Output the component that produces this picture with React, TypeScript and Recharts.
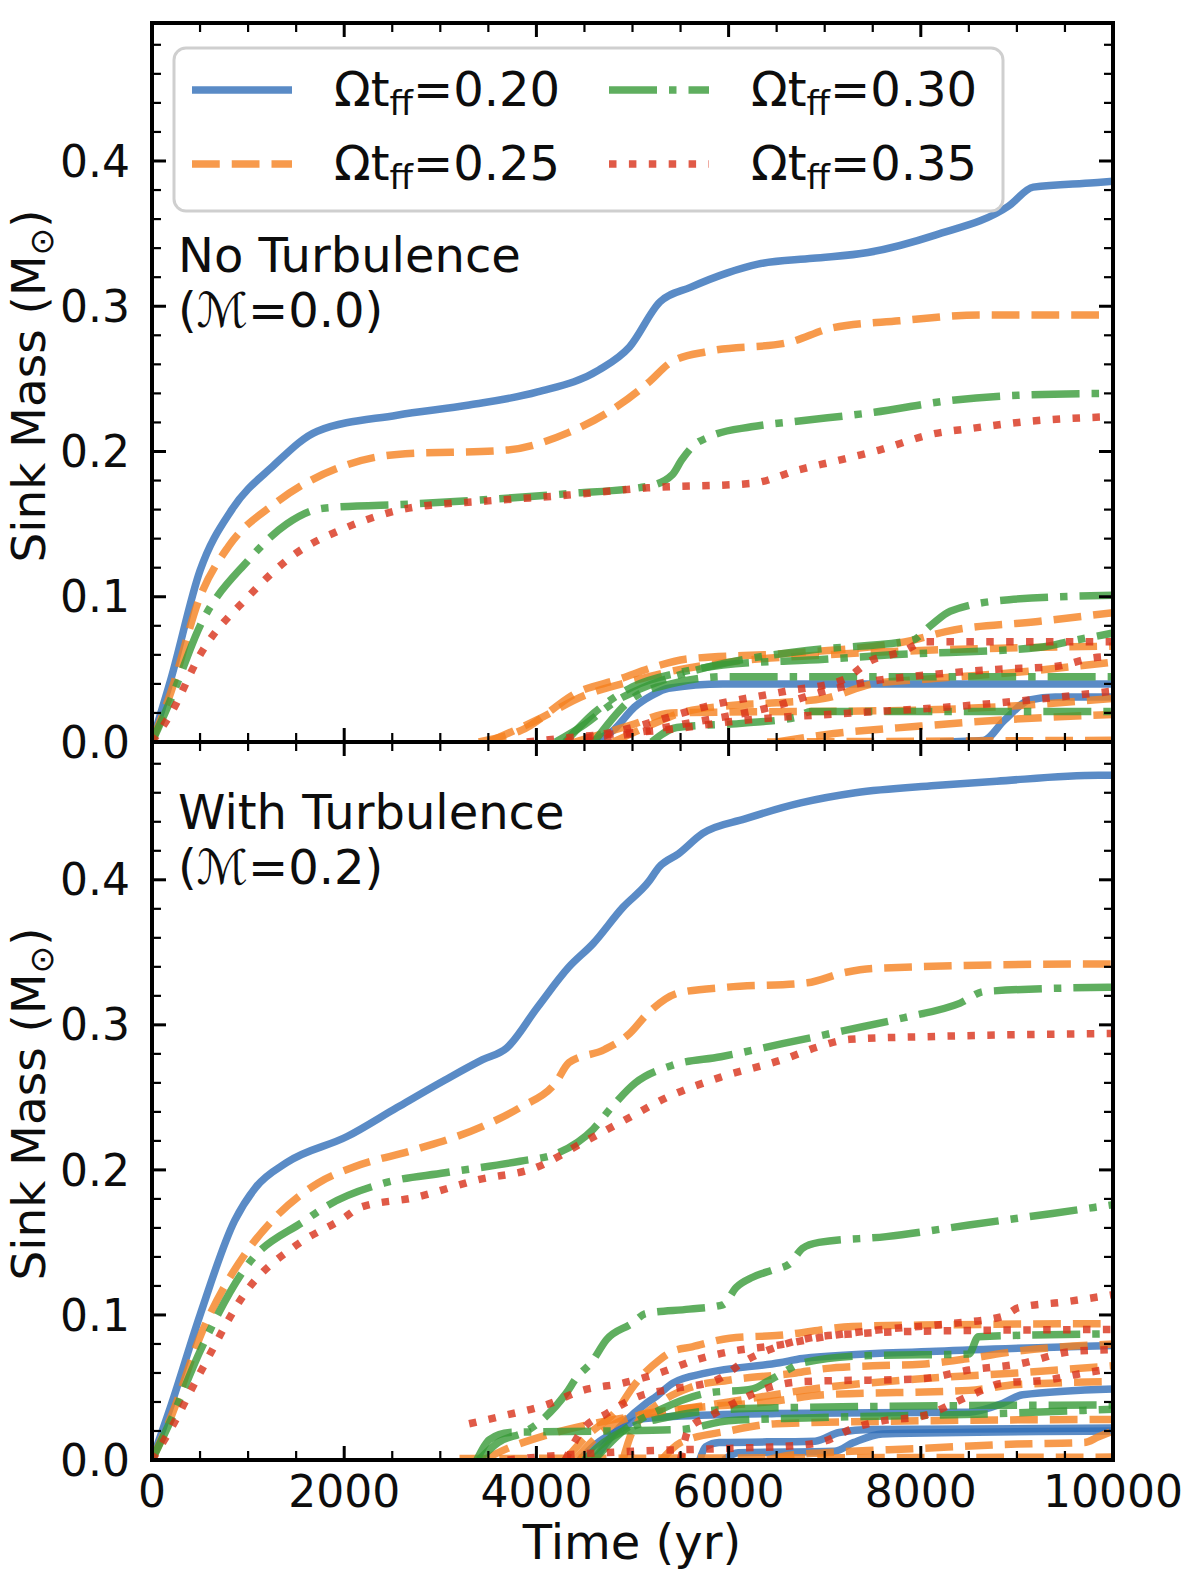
import { LineChart, Line, XAxis, YAxis } from "recharts";

type Pt = [number, number];
type OmegaKey = "0.20" | "0.25" | "0.30" | "0.35";

// ---------- ticks ----------
const xMajorTicks = [0, 2000, 4000, 6000, 8000, 10000];
const xMinorTicks = [500, 1000, 1500, 2500, 3000, 3500, 4500, 5000, 5500, 6500, 7000, 7500, 8500, 9000, 9500];
const yMajorTicks = [0, 0.1, 0.2, 0.3, 0.4];
const yMinorTicks = [0.02, 0.04, 0.06, 0.08, 0.12, 0.14, 0.16, 0.18, 0.22, 0.24, 0.26, 0.28, 0.32, 0.34, 0.36, 0.38, 0.42, 0.44, 0.46, 0.48];

const legendOrder: OmegaKey[] = ["0.20", "0.25", "0.30", "0.35"];

// ---------- top panel (no turbulence), [time yr, mass Msun] ----------
const top020: Pt[] = [[0, 0], [200, 0.044], [500, 0.118], [831, 0.16], [1260, 0.19], [1721, 0.214], [2549, 0.225], [3300, 0.232], [4012, 0.241], [4648, 0.256], [4969, 0.272], [5286, 0.303], [5603, 0.313], [5988, 0.323], [6305, 0.329], [6877, 0.333], [7450, 0.337], [8150, 0.349], [8915, 0.369], [9170, 0.382], [9803, 0.385], [10000, 0.386]];
const top025: Pt[] = [[0, 0], [200, 0.035], [500, 0.1], [800, 0.135], [1275, 0.164], [2037, 0.191], [2549, 0.198], [3690, 0.201], [4332, 0.213], [4840, 0.231], [5158, 0.247], [5414, 0.262], [5795, 0.269], [6622, 0.275], [7070, 0.285], [7775, 0.29], [8640, 0.294], [10000, 0.294]];
const top030: Pt[] = [[0, 0], [200, 0.03], [500, 0.08], [1000, 0.125], [1400, 0.15], [1785, 0.161], [2740, 0.164], [4332, 0.171], [5158, 0.176], [5414, 0.184], [5510, 0.194], [5634, 0.204], [5795, 0.21], [6237, 0.217], [6736, 0.221], [7516, 0.227], [8295, 0.235], [9107, 0.239], [10000, 0.24]];
const top035: Pt[] = [[0, 0], [200, 0.02], [500, 0.06], [1000, 0.1], [1500, 0.13], [2000, 0.147], [2672, 0.161], [3500, 0.166], [4332, 0.17], [5158, 0.175], [6237, 0.178], [6736, 0.1875], [7152, 0.194], [7568, 0.201], [8120, 0.212], [8537, 0.216], [9162, 0.221], [10000, 0.224]];

const topSink020a: Pt[] = [[4550, 0], [4800, 0.008], [5020, 0.024], [5200, 0.032], [5374, 0.037], [5940, 0.04], [10000, 0.04]];
const topSink020b: Pt[] = [[8200, 0], [8650, 0.001], [8870, 0.015], [9135, 0.029], [9400, 0.031], [10000, 0.031]];
const topSink025a: Pt[] = [[3400, 0], [3841, 0.008], [4454, 0.035], [4848, 0.043], [5241, 0.052], [5548, 0.057], [6598, 0.061], [7910, 0.07], [8260, 0.076], [9220, 0.083], [10000, 0.089]];
const topSink025b: Pt[] = [[3500, 0], [4000, 0.015], [4500, 0.032], [5000, 0.042], [5500, 0.05], [6000, 0.055], [7000, 0.06], [8000, 0.063], [10000, 0.066]];
const topSink025c: Pt[] = [[4800, 0], [5200, 0.012], [5500, 0.02], [6000, 0.025], [6500, 0.027], [7000, 0.03], [7500, 0.04], [8000, 0.043], [9000, 0.048], [10000, 0.055]];
const topSink025d: Pt[] = [[4400, 0], [5000, 0.012], [5400, 0.02], [8000, 0.022], [9000, 0.025], [10000, 0.03]];
const topSink025e: Pt[] = [[6500, 0], [7000, 0.005], [8000, 0.011], [8800, 0.015], [10000, 0.019]];
const topSink025f: Pt[] = [[6400, 0], [10000, 0.0012]];
const topSink030a: Pt[] = [[4200, 0], [4500, 0.012], [4848, 0.029], [5063, 0.036], [5810, 0.052], [6816, 0.063], [7910, 0.07], [8100, 0.08], [8306, 0.09], [8920, 0.098], [10000, 0.101]];
const topSink030b: Pt[] = [[4300, 0], [4600, 0.02], [5000, 0.038], [5500, 0.048], [5940, 0.053], [7000, 0.057], [7690, 0.06], [9220, 0.065], [9600, 0.07], [10000, 0.075]];
const topSink030c: Pt[] = [[4600, 0], [5000, 0.03], [5400, 0.04], [5990, 0.045], [10000, 0.045]];
const topSink030d: Pt[] = [[5200, 0], [5460, 0.01], [6165, 0.013], [6700, 0.017], [6860, 0.021], [10000, 0.021]];
const topSink035a: Pt[] = [[4300, 0], [5000, 0.01], [5800, 0.025], [6600, 0.035], [7200, 0.043], [7480, 0.056], [7800, 0.062], [8050, 0.069], [10000, 0.069]];
const topSink035b: Pt[] = [[4500, 0], [5500, 0.012], [6500, 0.025], [7000, 0.035], [7500, 0.042], [8040, 0.046], [8785, 0.05], [9400, 0.052], [9800, 0.058], [10000, 0.059]];
const topSink035c: Pt[] = [[3900, 0], [4500, 0.004], [5280, 0.008], [6160, 0.015], [7300, 0.02], [8565, 0.0255], [9140, 0.029], [10000, 0.035]];

// ---------- bottom panel (with turbulence) ----------
const bot020: Pt[] = [[0, 0], [200, 0.038], [500, 0.1], [860, 0.165], [1080, 0.188], [1400, 0.205], [2030, 0.223], [2550, 0.243], [3050, 0.262], [3440, 0.276], [3690, 0.284], [4010, 0.312], [4340, 0.34], [4590, 0.356], [4900, 0.381], [5160, 0.398], [5280, 0.409], [5480, 0.418], [5730, 0.432], [6170, 0.442], [6750, 0.453], [7320, 0.46], [8150, 0.465], [8790, 0.468], [9850, 0.472], [10000, 0.472]];
const bot025: Pt[] = [[0, 0], [200, 0.03], [500, 0.085], [1000, 0.145], [1250, 0.165], [1730, 0.191], [2100, 0.202], [2740, 0.214], [3440, 0.23], [3830, 0.243], [4200, 0.26], [4340, 0.274], [4710, 0.283], [4970, 0.294], [5160, 0.308], [5480, 0.322], [5990, 0.326], [6820, 0.329], [7200, 0.336], [7520, 0.339], [9850, 0.342], [10000, 0.342]];
const bot030: Pt[] = [[0, 0], [200, 0.028], [500, 0.075], [1000, 0.135], [1590, 0.165], [1790, 0.174], [2420, 0.191], [3050, 0.198], [3830, 0.206], [4200, 0.211], [4590, 0.228], [4780, 0.243], [5030, 0.26], [5410, 0.272], [5920, 0.278], [6560, 0.287], [7200, 0.296], [7830, 0.305], [8410, 0.315], [8660, 0.323], [10000, 0.326]];
const bot035: Pt[] = [[0, 0], [200, 0.022], [500, 0.06], [1000, 0.118], [1500, 0.148], [2000, 0.167], [2160, 0.174], [2740, 0.181], [3380, 0.193], [4010, 0.202], [4460, 0.218], [4910, 0.234], [5360, 0.25], [5920, 0.264], [6560, 0.276], [6940, 0.285], [7260, 0.29], [8150, 0.292], [10000, 0.294]];

const botSink020a: Pt[] = [[4600, 0], [4730, 0.012], [4900, 0.025], [5140, 0.039], [5250, 0.044], [5420, 0.053], [5770, 0.06], [6530, 0.067], [6770, 0.07], [8160, 0.075], [10000, 0.079]];
const botSink020b: Pt[] = [[4450, 0], [4620, 0.011], [4870, 0.021], [5070, 0.028], [5420, 0.03], [6500, 0.032], [8500, 0.033], [8850, 0.039], [9060, 0.045], [10000, 0.049]];
const botSink020c: Pt[] = [[5700, 0], [5760, 0.009], [5900, 0.012], [6900, 0.013], [7150, 0.019], [7500, 0.021], [10000, 0.022]];
const botSink020d: Pt[] = [[5950, 0], [6100, 0.005], [7100, 0.006], [7300, 0.012], [7600, 0.018], [10000, 0.02]];
const botSink025a: Pt[] = [[4300, 0], [4500, 0.015], [4870, 0.037], [5000, 0.05], [5280, 0.069], [5420, 0.075], [5620, 0.078], [6010, 0.084], [6530, 0.086], [7290, 0.092], [8000, 0.093], [10000, 0.094]];
const botSink025b: Pt[] = [[4900, 0], [5000, 0.02], [5300, 0.04], [5600, 0.05], [6000, 0.055], [6700, 0.06], [7000, 0.063], [7500, 0.065], [8000, 0.066], [8500, 0.07], [9000, 0.075], [10000, 0.08]];
const botSink025c: Pt[] = [[4400, 0], [4700, 0.02], [5000, 0.03], [5500, 0.035], [6400, 0.04], [7000, 0.045], [8500, 0.048], [9000, 0.052], [10000, 0.054]];
const botSink025d: Pt[] = [[5300, 0], [5500, 0.012], [6000, 0.02], [6500, 0.025], [8000, 0.027], [10000, 0.028]];
const botSink025e: Pt[] = [[6400, 0], [6600, 0.003], [7000, 0.005], [8000, 0.008], [9000, 0.011], [9700, 0.012], [9850, 0.016], [10000, 0.02]];
const botSink025f: Pt[] = [[3200, 0.001], [10000, 0.002]];
const botSink025g: Pt[] = [[3450, 0], [3700, 0.008], [4100, 0.017], [4730, 0.027], [5200, 0.032], [6000, 0.04], [7000, 0.05], [8000, 0.056], [9000, 0.06], [10000, 0.065]];
const botSink030a: Pt[] = [[3400, 0], [3600, 0.012], [3900, 0.02], [4065, 0.028], [4310, 0.046], [4420, 0.057], [4570, 0.067], [4730, 0.083], [4990, 0.094], [5140, 0.101], [5590, 0.104], [5940, 0.107], [6080, 0.119], [6250, 0.126], [6460, 0.131], [6630, 0.135], [6770, 0.146], [6940, 0.15], [7640, 0.154], [8500, 0.162], [9370, 0.17], [10000, 0.176]];
const botSink030b: Pt[] = [[4600, 0], [4900, 0.02], [5300, 0.035], [5770, 0.046], [6250, 0.049], [6400, 0.054], [6560, 0.06], [6770, 0.067], [7460, 0.072], [8500, 0.073], [8600, 0.085], [10000, 0.087]];
const botSink030c: Pt[] = [[4500, 0], [4700, 0.012], [5000, 0.023], [5400, 0.03], [5800, 0.034], [6500, 0.036], [10000, 0.038]];
const botSink030d: Pt[] = [[3380, 0], [3510, 0.014], [3720, 0.019], [4700, 0.02], [5500, 0.021], [6000, 0.027], [6800, 0.029], [8800, 0.032], [10000, 0.035]];
const botSink035a: Pt[] = [[3300, 0.025], [3690, 0.031], [4100, 0.038], [4480, 0.048], [4900, 0.053], [5280, 0.06], [5660, 0.069], [6040, 0.075], [6500, 0.079], [7000, 0.085], [7600, 0.09], [8300, 0.094], [8850, 0.099], [9020, 0.105], [9500, 0.109], [10000, 0.114]];
const botSink035b: Pt[] = [[4300, 0], [4480, 0.021], [4730, 0.032], [5070, 0.044], [5420, 0.049], [5870, 0.055], [6190, 0.069], [6420, 0.076], [6840, 0.084], [7300, 0.087], [8200, 0.089], [10000, 0.09]];
const botSink035c: Pt[] = [[5500, 0], [5590, 0.022], [5800, 0.03], [6110, 0.041], [6420, 0.05], [6770, 0.054], [8000, 0.056], [8500, 0.062], [9000, 0.066], [9600, 0.075], [10000, 0.076]];
const botSink035d: Pt[] = [[3700, 0], [4200, 0.003], [5000, 0.006], [6000, 0.008], [6700, 0.01], [7000, 0.013], [7300, 0.022], [7600, 0.027], [8000, 0.03], [8500, 0.044], [8850, 0.053], [9300, 0.055], [9700, 0.06], [10000, 0.063]];

type Series = { key: string; omega: OmegaKey; pts: Pt[] };

const topSeries: Series[] = [
  { key: "t020", omega: "0.20", pts: top020 },
  { key: "t025", omega: "0.25", pts: top025 },
  { key: "t030", omega: "0.30", pts: top030 },
  { key: "t035", omega: "0.35", pts: top035 },
  { key: "ts020a", omega: "0.20", pts: topSink020a },
  { key: "ts020b", omega: "0.20", pts: topSink020b },
  { key: "ts025a", omega: "0.25", pts: topSink025a },
  { key: "ts025b", omega: "0.25", pts: topSink025b },
  { key: "ts025c", omega: "0.25", pts: topSink025c },
  { key: "ts025d", omega: "0.25", pts: topSink025d },
  { key: "ts025e", omega: "0.25", pts: topSink025e },
  { key: "ts025f", omega: "0.25", pts: topSink025f },
  { key: "ts030a", omega: "0.30", pts: topSink030a },
  { key: "ts030b", omega: "0.30", pts: topSink030b },
  { key: "ts030c", omega: "0.30", pts: topSink030c },
  { key: "ts030d", omega: "0.30", pts: topSink030d },
  { key: "ts035a", omega: "0.35", pts: topSink035a },
  { key: "ts035b", omega: "0.35", pts: topSink035b },
  { key: "ts035c", omega: "0.35", pts: topSink035c },
];

const bottomSeries: Series[] = [
  { key: "b020", omega: "0.20", pts: bot020 },
  { key: "b025", omega: "0.25", pts: bot025 },
  { key: "b030", omega: "0.30", pts: bot030 },
  { key: "b035", omega: "0.35", pts: bot035 },
  { key: "bs020a", omega: "0.20", pts: botSink020a },
  { key: "bs020b", omega: "0.20", pts: botSink020b },
  { key: "bs020c", omega: "0.20", pts: botSink020c },
  { key: "bs020d", omega: "0.20", pts: botSink020d },
  { key: "bs025a", omega: "0.25", pts: botSink025a },
  { key: "bs025b", omega: "0.25", pts: botSink025b },
  { key: "bs025c", omega: "0.25", pts: botSink025c },
  { key: "bs025d", omega: "0.25", pts: botSink025d },
  { key: "bs025e", omega: "0.25", pts: botSink025e },
  { key: "bs025f", omega: "0.25", pts: botSink025f },
  { key: "bs025g", omega: "0.25", pts: botSink025g },
  { key: "bs030a", omega: "0.30", pts: botSink030a },
  { key: "bs030b", omega: "0.30", pts: botSink030b },
  { key: "bs030c", omega: "0.30", pts: botSink030c },
  { key: "bs030d", omega: "0.30", pts: botSink030d },
  { key: "bs035a", omega: "0.35", pts: botSink035a },
  { key: "bs035b", omega: "0.35", pts: botSink035b },
  { key: "bs035c", omega: "0.35", pts: botSink035c },
  { key: "bs035d", omega: "0.35", pts: botSink035d },
];

// ---------- styling ----------
const LW = 7.5;
const STYLE: Record<OmegaKey, { color: string; dash?: string }> = {
  "0.20": { color: "#316EB8" },
  "0.25": { color: "#F5811F", dash: "27.75 12" },
  "0.30": { color: "#379A37", dash: "48 12 7.5 12" },
  "0.35": { color: "#D83119", dash: "7.5 12.4" },
};
const LINE_ALPHA = 0.8;

const X_DOMAIN: [number, number] = [0, 10000];
const Y_DOMAIN: [number, number] = [0, 0.495];

const FONT = "'DejaVu Sans', 'Noto Sans', sans-serif";
const INK = "#0d0d0d";
const axisLineStyle = { stroke: "#000", strokeWidth: 4, strokeLinecap: "square" as const };
const majorTickLine = { stroke: "#000", strokeWidth: 3 };
const minorTickLine = { stroke: "#000", strokeWidth: 2.2 };
const MAJOR = 14;
const MINOR = 8;
const labelStyle = { fill: INK, fontSize: 44 };
// recharts drops the tick lines too when tick={false}, so tick-only axes get an empty tick
const noLabel = () => <g />;

const toRows = (pts: Pt[]) => pts.map(([t, v]) => ({ t, v }));

// Ticks point inward: mirrored axes (positive tickSize) carry frame + tick marks,
// non-mirrored 1px axes carry only the numeric labels.
function Panel({
  series,
  height,
  margin,
  showXLabels,
}: {
  series: Series[];
  height: number;
  margin: { top: number; right: number; bottom: number; left: number };
  showXLabels: boolean;
}) {
  const xCommon = { type: "number" as const, dataKey: "t", domain: X_DOMAIN, allowDataOverflow: true, interval: 0, height: 1 };
  const yCommon = { type: "number" as const, domain: Y_DOMAIN, allowDataOverflow: true, interval: 0, width: 1 };
  return (
    <LineChart width={1200} height={height} margin={margin}>
      <XAxis {...xCommon} ticks={xMajorTicks} tickSize={0} tickMargin={16} tickLine={false} axisLine={false} tick={showXLabels ? labelStyle : false} />
      <XAxis {...xCommon} xAxisId="xb" mirror ticks={xMajorTicks} tickSize={MAJOR} tickLine={majorTickLine} axisLine={axisLineStyle} tick={noLabel} />
      <XAxis {...xCommon} xAxisId="xbm" mirror ticks={xMinorTicks} tickSize={MINOR} tickLine={minorTickLine} axisLine={false} tick={noLabel} />
      <XAxis {...xCommon} xAxisId="xt" orientation="top" mirror ticks={xMajorTicks} tickSize={MAJOR} tickLine={majorTickLine} axisLine={axisLineStyle} tick={noLabel} />
      <XAxis {...xCommon} xAxisId="xtm" orientation="top" mirror ticks={xMinorTicks} tickSize={MINOR} tickLine={minorTickLine} axisLine={false} tick={noLabel} />

      <YAxis {...yCommon} ticks={yMajorTicks} tickSize={0} tickMargin={22} tickLine={false} axisLine={false} tick={labelStyle} tickFormatter={(v: number) => v.toFixed(1)} />
      <YAxis {...yCommon} yAxisId="yl" mirror ticks={yMajorTicks} tickSize={MAJOR} tickLine={majorTickLine} axisLine={axisLineStyle} tick={noLabel} />
      <YAxis {...yCommon} yAxisId="ylm" mirror ticks={yMinorTicks} tickSize={MINOR} tickLine={minorTickLine} axisLine={false} tick={noLabel} />
      <YAxis {...yCommon} yAxisId="yr" orientation="right" mirror ticks={yMajorTicks} tickSize={MAJOR} tickLine={majorTickLine} axisLine={axisLineStyle} tick={noLabel} />
      <YAxis {...yCommon} yAxisId="yrm" orientation="right" mirror ticks={yMinorTicks} tickSize={MINOR} tickLine={minorTickLine} axisLine={false} tick={noLabel} />

      {series.map((s) => (
        <Line
          key={s.key}
          data={toRows(s.pts)}
          dataKey="v"
          type="monotone"
          stroke={STYLE[s.omega].color}
          strokeOpacity={LINE_ALPHA}
          strokeWidth={LW}
          strokeDasharray={STYLE[s.omega].dash}
          strokeLinecap="butt"
          dot={false}
          activeDot={false}
          isAnimationActive={false}
        />
      ))}
    </LineChart>
  );
}

function Overlay() {
  const legendRows = [
    { omega: legendOrder[0], x: 192, y: 90 },
    { omega: legendOrder[1], x: 192, y: 164 },
    { omega: legendOrder[2], x: 609, y: 90 },
    { omega: legendOrder[3], x: 609, y: 164 },
  ];
  return (
    <svg width={1200} height={1586} style={{ position: "absolute", left: 0, top: 0, pointerEvents: "none", fontFamily: FONT }}>
      {/* legend */}
      <rect x={174} y={48} width={829} height={163} rx={12} ry={12} fill="#fff" fillOpacity={0.8} stroke="#cfcfcf" strokeWidth={3} />
      {legendRows.map((r) => (
        <g key={r.omega}>
          <line x1={r.x} x2={r.x + 100} y1={r.y} y2={r.y} stroke={STYLE[r.omega].color} strokeOpacity={LINE_ALPHA} strokeWidth={LW} strokeDasharray={STYLE[r.omega].dash} />
          <text x={r.x + 142} y={r.y + 16} fontSize={48} fill={INK}>
            Ωt<tspan fontSize={34} dy={9}>ff</tspan>
            <tspan dy={-9}>={r.omega}</tspan>
          </text>
        </g>
      ))}

      {/* panel annotations */}
      <text x={178} y={272} fontSize={48} fill={INK}>No Turbulence</text>
      <text x={178} y={327} fontSize={48} fill={INK}>(ℳ=0.0)</text>
      <text x={178} y={829} fontSize={48} fill={INK}>With Turbulence</text>
      <text x={178} y={884} fontSize={48} fill={INK}>(ℳ=0.2)</text>

      {/* axis labels */}
      <text x={632} y={1559} fontSize={48} textAnchor="middle" fill={INK}>Time (yr)</text>
      {[386, 1104].map((cy) => (
        <text key={cy} transform={`translate(45, ${cy}) rotate(-90)`} fontSize={47} textAnchor="middle" fill={INK}>
          Sink Mass (M<tspan fontSize={33} dy={8}>⊙</tspan>
          <tspan dy={-8}>)</tspan>
        </text>
      ))}
    </svg>
  );
}

export default function App() {
  return (
    <div style={{ position: "absolute", left: 0, top: 0, width: 1200, height: 1586, background: "#fff", fontFamily: FONT }}>
      <div style={{ position: "absolute", left: 0, top: 724 }}>
        <Panel series={bottomSeries} height={862} margin={{ top: 18, right: 87, bottom: 125, left: 151 }} showXLabels />
      </div>
      <div style={{ position: "absolute", left: 0, top: 0 }}>
        <Panel series={topSeries} height={790} margin={{ top: 23, right: 87, bottom: 47, left: 151 }} showXLabels={false} />
      </div>
      <Overlay />
    </div>
  );
}
